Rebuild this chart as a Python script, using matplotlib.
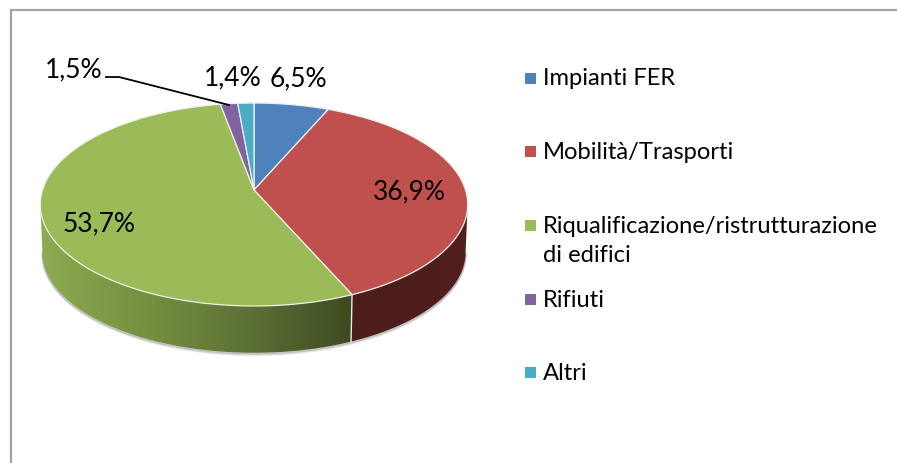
import numpy as np
import matplotlib
matplotlib.use("Agg")
import matplotlib.pyplot as plt
from matplotlib.colors import LinearSegmentedColormap
from matplotlib.patches import Polygon, Rectangle

categories = ["Impianti FER", "Mobilità/Trasporti", "Riqualificazione/ristrutturazione\ndi edifici", "Rifiuti", "Altri"]
values = [6.5, 36.9, 53.7, 1.5, 1.4]
value_labels = ["6,5%", "36,9%", "53,7%", "1,5%", "1,4%"]
colors = ["#4f81bd", "#c0504d", "#9bbb59", "#8064a2", "#4bacc6"]

W, H = 897, 463
CX, CY, RX, RY, K = 254, 190, 211.5, 99.4, -0.1429
DEPTH = 48
SHRINK = 0.99
FONT = "Lato"

fig = plt.figure(figsize=(W / 100, H / 100), dpi=100, facecolor="white")
ax = fig.add_axes([0, 0, 1, 1])
ax.set_xlim(0, W)
ax.set_ylim(H, 0)
ax.axis("off")


def project(theta, r=1.0, drop=0.0, shrink=1.0):
    """Perspective view of a disc; theta runs clockwise from the back."""
    u, t = r * np.sin(theta), -r * np.cos(theta)
    d = 1 + K * t
    return CX + shrink * RX * u / d, CY + drop + shrink * RY * t / d


edges = np.radians(np.concatenate([[0], np.cumsum(values)]) * 3.6)
# where the rim is widest on screen: the wall's silhouette starts there
A_RIGHT, A_LEFT = np.radians(98.2), np.radians(261.8)

# frame: top and left only, running off the picture
ax.plot([11, 11, W + 2], [H + 2, 9.5, 9.5], color="#a3a3a3", lw=1.6, solid_joinstyle="miter")

# soft shadow under the lower rim
rim = np.linspace(A_RIGHT, A_LEFT, 200)
for extra, alpha in [(2.5, 0.12), (1.5, 0.22), (0.7, 0.35)]:
    x, y = project(rim, drop=DEPTH + extra, shrink=SHRINK)
    ax.plot(x, y, color="#808080", alpha=alpha, lw=1.4, zorder=1)

# side wall: a horizontal gradient clipped to each slice's wall
wall_cmaps = {
    1: LinearSegmentedColormap.from_list("r", ["#4b1d1b", "#4d1e1c", "#521f1e"]),
    2: LinearSegmentedColormap.from_list("g", ["#8dab52", "#76913f", "#5d7236", "#3d4a20"]),
}
for i, cmap in wall_cmaps.items():
    a0, a1 = max(edges[i], A_RIGHT), min(edges[i + 1], A_LEFT)
    th = np.linspace(a0, a1, 300)
    x0, y0 = project(th)
    x1, y1 = project(th, drop=DEPTH, shrink=SHRINK)
    pts = np.column_stack([np.r_[x0, x1[::-1]], np.r_[y0, y1[::-1]]])
    poly = Polygon(pts, closed=True, fc="none", ec="none", transform=ax.transData)
    ax.add_patch(poly)
    xmin, xmax = pts[:, 0].min(), pts[:, 0].max()
    grad = np.linspace(0, 1, 256)[None, :]
    im = ax.imshow(grad, cmap=cmap, aspect="auto",
                   extent=(xmin, xmax, pts[:, 1].max(), pts[:, 1].min()), zorder=2)
    im.set_clip_path(poly)
ax.set_xlim(0, W)
ax.set_ylim(H, 0)

# seam between the red and green walls
xa, ya = project(edges[2])
xb, yb = project(edges[2], drop=DEPTH, shrink=SHRINK)
ax.plot([xa, xb], [ya, yb], color="#e8e8e8", lw=1.0, zorder=3)

# top face
for i, c in enumerate(colors):
    th = np.linspace(edges[i], edges[i + 1], 200)
    x, y = project(th)
    ax.add_patch(Polygon(np.column_stack([np.r_[CX, x], np.r_[CY, y]]), closed=True,
                         fc=c, ec="#eef0ea", lw=0.9, zorder=4, joinstyle="round"))

# data labels
label_pos = [(298, 86), (409, 199), (99, 231), (74, 77), (233, 85)]
for txt, (x, y) in zip(value_labels, label_pos):
    ax.text(x, y, txt, fontsize=19, family=FONT, color="black", ha="center", va="baseline", zorder=6)

# leader line
ax.plot([106, 119, 229], [77, 77, 105], color="black", lw=1.3, zorder=6)

# legend
leg_y = [78, 151, 225, 299, 372]
leg_base = [85, 159, 233, 307, 380]
for name, c, y, b in zip(categories, colors, leg_y, leg_base):
    ax.add_patch(Rectangle((525, y - 5.5), 11, 11, fc=c, ec="none", zorder=5))
    lines = name.split("\n")
    for k, line in enumerate(lines):
        ax.text(543, b + 29 * k, line, fontsize=17.15, family=FONT, color="black",
                ha="left", va="baseline", zorder=6)

fig.savefig("out.png", dpi=100)
